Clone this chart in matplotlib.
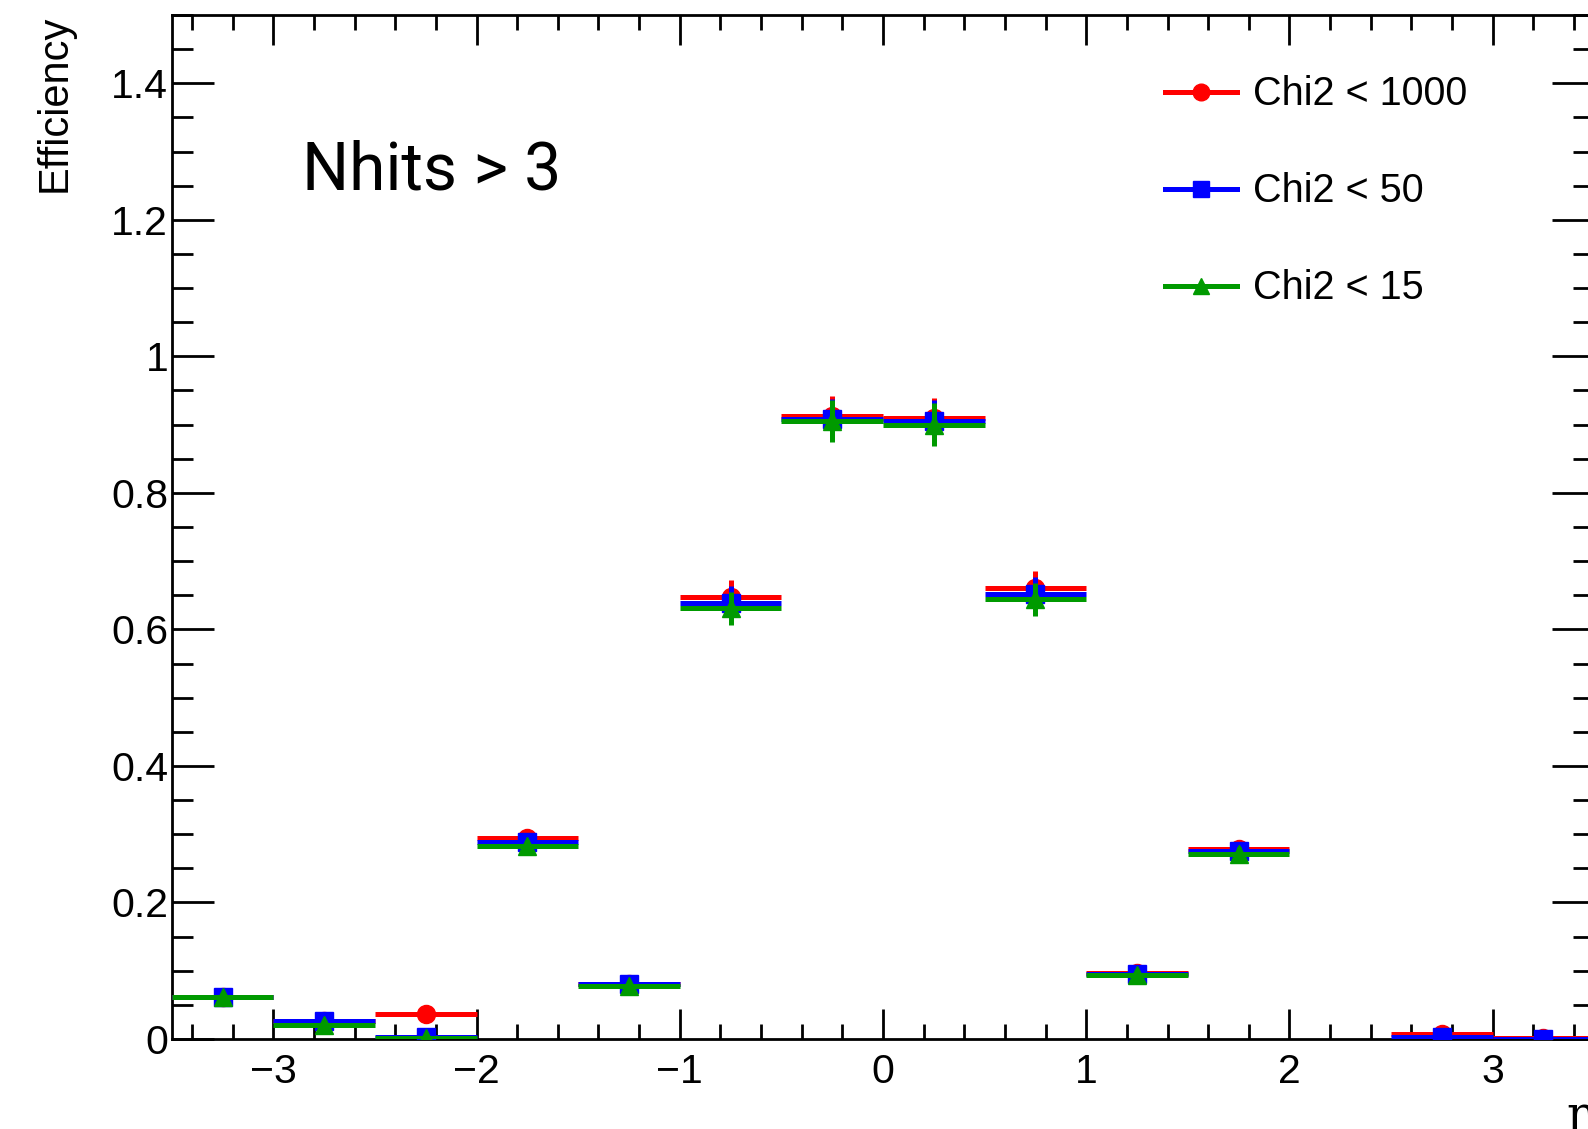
import numpy as np
import matplotlib
matplotlib.use("Agg")
import matplotlib.pyplot as plt
from matplotlib.lines import Line2D
from matplotlib.ticker import MultipleLocator

plt.rcParams['font.family'] = ['Liberation Sans', 'DejaVu Sans']

# eta bins (width 0.5) and efficiencies
eta_centers = [-3.25, -2.75, -2.25, -1.75, -1.25, -0.75, -0.25,
               0.25, 0.75, 1.25, 1.75, 2.25, 2.75, 3.25]
eta_halfwidth = 0.25
nan = np.nan

eff_chi1000 = [0.062, 0.027, 0.036, 0.295, 0.081, 0.648, 0.912,
               0.910, 0.661, 0.097, 0.278, nan, 0.008, 0.002]
err_chi1000 = [0.006, 0.005, 0.006, 0.010, 0.006, 0.024, 0.030,
               0.029, 0.025, 0.006, 0.010, nan, 0.003, 0.002]

eff_chi50 = [0.062, 0.026, 0.003, 0.288, 0.080, 0.638, 0.908,
             0.906, 0.652, 0.095, 0.275, nan, 0.003, 0.000]
err_chi50 = [0.006, 0.005, 0.003, 0.010, 0.006, 0.025, 0.030,
             0.030, 0.025, 0.006, 0.010, nan, 0.002, 0.001]

eff_chi15 = [0.062, 0.020, 0.001, 0.282, 0.078, 0.631, 0.905,
             0.900, 0.644, 0.094, 0.271, nan, nan, nan]
err_chi15 = [0.006, 0.005, 0.002, 0.010, 0.006, 0.024, 0.031,
             0.031, 0.024, 0.006, 0.010, nan, nan, nan]

series = [
    ("Chi2 < 1000", eff_chi1000, err_chi1000, "#ff0000", "o", 13),
    ("Chi2 < 50", eff_chi50, err_chi50, "#0000ff", "s", 13),
    ("Chi2 < 15", eff_chi15, err_chi15, "#009a00", "^", 13),
]

fig = plt.figure(figsize=(15.88, 11.29), dpi=100)
ax = fig.add_axes([171.7 / 1588, 90 / 1129, 1422.6 / 1588, 1024 / 1129])

handles = []
for i, (label, eff, err, col, mk, ms) in enumerate(series):
    ax.errorbar(eta_centers, eff, yerr=err, xerr=eta_halfwidth, fmt=mk,
                color=col, ms=ms, elinewidth=3.6, capsize=0, zorder=3 + i)
    handles.append(Line2D([], [], color=col, lw=3.6, marker=mk, ms=12, label=label))

ax.set_xlim(-3.5, 3.5)
ax.set_ylim(0, 1.5)
ax.xaxis.set_major_locator(MultipleLocator(1))
ax.xaxis.set_minor_locator(MultipleLocator(0.2))
ax.yaxis.set_major_locator(MultipleLocator(0.2))
ax.yaxis.set_minor_locator(MultipleLocator(0.05))
ax.yaxis.set_major_formatter(plt.FuncFormatter(lambda v, p: "0" if v == 0 else ("1" if v == 1 else f"{v:g}")))

ax.tick_params(axis='both', which='both', direction='in', width=2,
               top=True, right=True, labelsize=29.5)
ax.tick_params(axis='x', which='major', length=21.6, pad=10)
ax.tick_params(axis='x', which='minor', length=10.8)
ax.tick_params(axis='y', which='major', length=30, pad=2.5)
ax.tick_params(axis='y', which='minor', length=15)
for s in ax.spines.values():
    s.set_linewidth(2)

ax.set_ylabel("Efficiency", fontsize=30, loc='top', labelpad=26)
ax.set_xlabel("η", fontsize=34, loc='right', family='DejaVu Serif', labelpad=2)

ax.text(0.0914, 0.8298, "Nhits > 3", transform=ax.transAxes, fontsize=47.5,
        family='Roboto', va='baseline', ha='left')

ax.legend(handles=handles, loc='upper left', bbox_to_anchor=(0.698, 0.941),
          frameon=False, fontsize=28.5, handlelength=1.82, handletextpad=0.4,
          labelspacing=1.49, borderpad=0, borderaxespad=0)

fig.savefig("out.png", dpi=100)
